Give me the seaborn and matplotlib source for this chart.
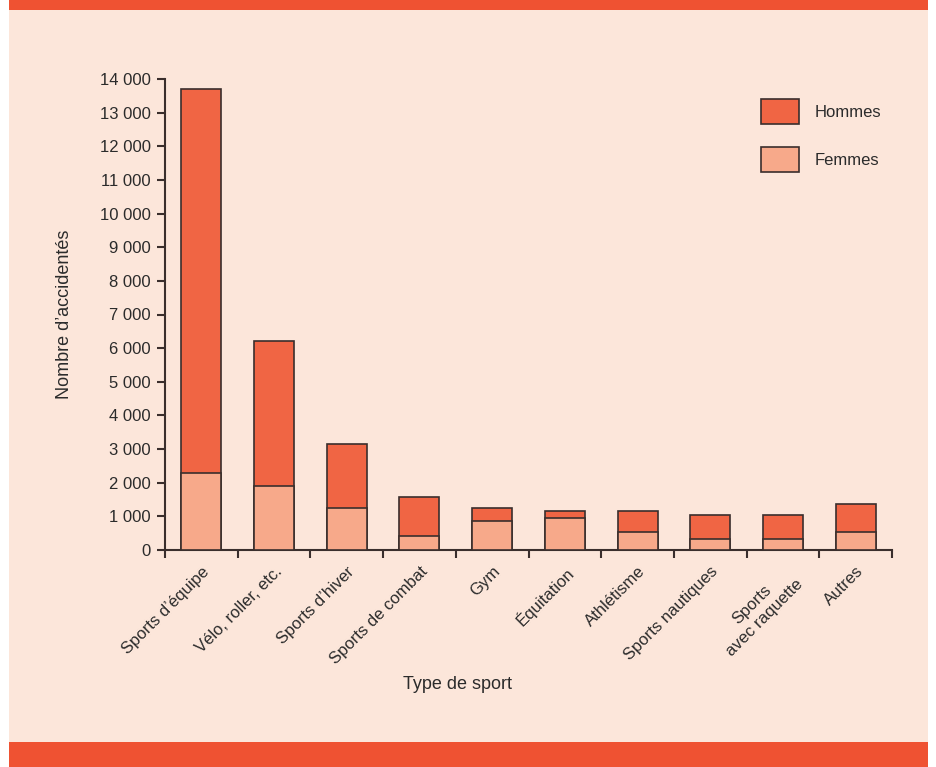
import matplotlib
matplotlib.use("Agg")
import matplotlib.pyplot as plt
import matplotlib.patches as mpatches
from matplotlib.ticker import FixedLocator, FuncFormatter
import seaborn as sns
import pandas as pd
import numpy as np

categories = ["Sports d\u2019équipe", "Vélo, roller, etc.", "Sports d\u2019hiver",
              "Sports de combat", "Gym", "Équitation", "Athlétisme",
              "Sports nautiques", "Sports\navec raquette", "Autres"]
femmes = [2300, 1900, 1250, 420, 850, 950, 530, 320, 320, 530]
hommes = [11400, 4300, 1900, 1160, 400, 200, 620, 730, 730, 840]
yticks = list(range(0, 14001, 1000))

sns.set_theme(style="white")
plt.rcParams['font.family'] = ['Liberation Sans', 'DejaVu Sans']

BG = "#FCE6DA"
BAND = "#EF5232"
C_H = "#F06544"
C_F = "#F7A98A"
EDGE = "#3A2E2C"
TXT = "#2B2B2B"

df = pd.DataFrame({"cat": categories, "femmes": femmes, "hommes": hommes})
df["total"] = df["femmes"] + df["hommes"]

fig = plt.figure(figsize=(9.36, 7.67), dpi=100)
fig.patch.set_facecolor("white")
fig.add_artist(mpatches.Rectangle((9/936, 0), 919/936, 1, transform=fig.transFigure,
                                  facecolor=BG, edgecolor="none", zorder=-10))
fig.add_artist(mpatches.Rectangle((9/936, 1 - 10/767), 919/936, 10/767, transform=fig.transFigure,
                                  facecolor=BAND, edgecolor="none", zorder=-9))
fig.add_artist(mpatches.Rectangle((9/936, 0), 919/936, 25/767, transform=fig.transFigure,
                                  facecolor=BAND, edgecolor="none", zorder=-9))

ax = fig.add_axes([165/936, 1 - 550/767, (892 - 165)/936, (550 - 79)/767])
ax.set_facecolor("none")

sns.barplot(data=df, x="cat", y="total", color=C_H, edgecolor=EDGE, linewidth=1.2,
            width=0.55, saturation=1, ax=ax, zorder=2)
sns.barplot(data=df, x="cat", y="femmes", color=C_F, edgecolor=EDGE, linewidth=1.2,
            width=0.55, saturation=1, ax=ax, zorder=3)

ax.set_xlim(-0.5, len(categories) - 0.5)
ax.set_ylim(0, 14000)
ax.yaxis.set_major_locator(FixedLocator(yticks))
ax.yaxis.set_major_formatter(FuncFormatter(lambda v, p: f"{int(v):,}".replace(",", " ")))

for s in ["top", "right"]:
    ax.spines[s].set_visible(False)
for s in ["left", "bottom"]:
    ax.spines[s].set_color(EDGE)
    ax.spines[s].set_linewidth(1.5)

ax.tick_params(axis="y", which="major", direction="out", length=6, width=1.5,
               color=EDGE, labelsize=12, labelcolor=TXT, pad=4, left=True)
ax.set_xticks(range(len(categories)))
ax.set_xticklabels(categories, rotation=45, ha="right", rotation_mode="anchor",
                   fontsize=12, color=TXT, multialignment="center")
ax.tick_params(axis="x", which="major", length=0, pad=10, bottom=True)
ax.set_xticks(np.arange(-0.5, len(categories), 1.0), minor=True)
ax.tick_params(axis="x", which="minor", direction="out", length=6, width=1.5, color=EDGE, bottom=True)

ax.set_xlabel("Type de sport", fontsize=13, color=TXT)
ax.xaxis.set_label_coords(0.403, -0.267)
ax.set_ylabel("Nombre d\u2019accidentés", fontsize=13, color=TXT)
ax.yaxis.set_label_coords(-0.126, 0.5)

handles = [mpatches.Patch(facecolor=C_H, edgecolor=EDGE, linewidth=1.2, label="Hommes"),
           mpatches.Patch(facecolor=C_F, edgecolor=EDGE, linewidth=1.2, label="Femmes")]
leg = ax.legend(handles=handles, loc="upper left", bbox_to_anchor=(0.820, 0.9575),
                frameon=False, fontsize=12, handlelength=2.3, handleheight=1.9,
                labelspacing=1.4, handletextpad=0.9, labelcolor=TXT,
                borderpad=0, borderaxespad=0)

fig.savefig("out.png", dpi=100, facecolor=fig.get_facecolor())
